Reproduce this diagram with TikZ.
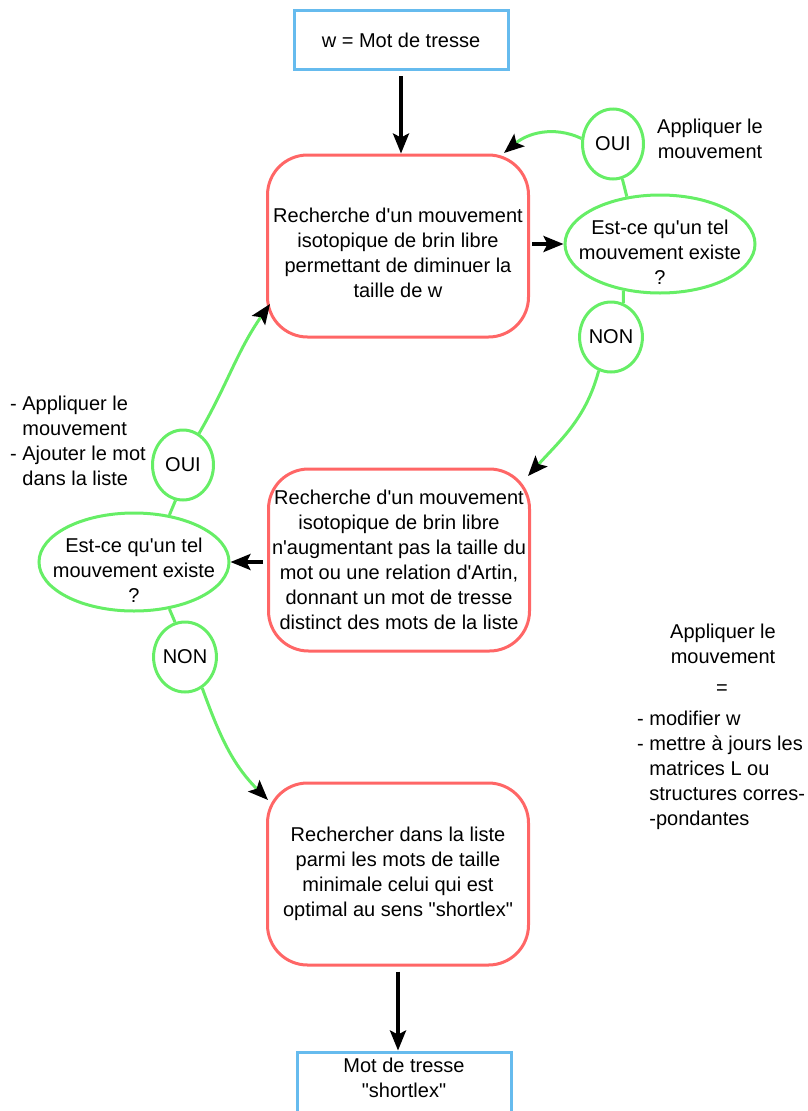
\documentclass[tikz,border=0pt]{standalone}
\usepackage{fontspec}
\setmainfont{Liberation Sans}[Ligatures=TeXOff]
\usepackage{xcolor}
\definecolor{blue1}{HTML}{66BBEE}
\definecolor{red1}{HTML}{FF6666}
\definecolor{green1}{HTML}{66EE66}
\usetikzlibrary{shapes.geometric,arrows.meta,positioning}

\begin{document}
\begin{tikzpicture}[
  x=1pt,y=1pt,
  font=\fontsize{20}{25}\selectfont,
  endpoint/.style={rectangle,draw=blue1,line width=3pt,minimum width=214pt,
                   minimum height=59pt,align=center,inner sep=0pt},
  search/.style={rectangle,draw=red1,line width=3pt,rounded corners=40pt,
                 minimum width=261pt,minimum height=182pt,align=center,inner sep=0pt},
  test/.style={ellipse,draw=green1,line width=3pt,minimum width=190pt,
               minimum height=98pt,align=center,inner xsep=-14pt,inner ysep=-6pt},
  answer/.style={ellipse,draw=green1,line width=3pt,minimum width=61pt,
                 minimum height=70pt,inner sep=0pt},
  arrow/.style={-{Stealth[length=20pt,width=16pt,inset=4pt]},line width=3.5pt},
  branch/.style={-{Stealth[length=20pt,width=16pt,inset=4pt,black]},line width=3pt,draw=green1},
  link/.style={line width=3pt,draw=green1},
  note/.style={align=left,inner sep=0pt},
]
  \useasboundingbox (0,0) rectangle (808,-1111);

  \node[endpoint] (start) at (401,-40) {w = Mot de tresse};
  \node[search] (search1) at (398,-246)
    {\rule{0pt}{28pt}Recherche d'un mouvement\\isotopique de brin libre\\permettant de diminuer la\\taille de w};
  \node[test] (test1) at (660,-244) {\rule{0pt}{30pt}Est-ce qu'un tel\\mouvement existe\\?};
  \node[answer] (yes1) at (613,-144) {OUI};
  \node[answer] (no1) at (611,-337) {NON};
  \node[search] (search2) at (399,-560)
    {Recherche d'un mouvement\\isotopique de brin libre\\n'augmentant pas la taille du\\mot ou une relation d'Artin,\\donnant un mot de tresse\\distinct des mots de la liste};
  \node[test] (test2) at (134,-562) {\rule{0pt}{30pt}Est-ce qu'un tel\\mouvement existe\\?};
  \node[answer] (yes2) at (183,-465) {OUI};
  \node[answer] (no2) at (185,-657) {NON};
  \node[search] (search3) at (398,-874)
    {Rechercher dans la liste\\parmi les mots de taille\\minimale celui qui est\\optimal au sens "shortlex"};
  \node[endpoint,minimum height=62pt] (result) at (404,-1083)
    {Mot de tresse\\"shortlex"\rule[-10pt]{0pt}{1pt}};

  \coordinate (tip1) at (504,-153);
  \coordinate (tip2) at (528,-476);
  \coordinate (tip3) at (270,-304);
  \coordinate (tip4) at (268,-800);

  \draw[arrow,shorten <=5pt] (start.south) -- (start.south |- search1.north);
  \draw[arrow,shorten <=2pt] (search1.east |- test1.west) -- (test1.west);
  \draw[arrow,shorten <=4pt] (search2.west |- test2.east) -- (test2.east);
  \draw[arrow,shorten <=5pt] (search3.south) -- (search3.south |- result.north);

  \draw[link] (yes1.-75) -- (test1.125);
  \draw[link] (test1.232) -- (no1.70);
  \draw[link] (yes2.258) -- (test2.53);
  \draw[link] (test2.-53) -- (no2.106);

  \draw[branch] (yes1.170) to[out=155,in=40] (tip1);
  \draw[branch] (no1.250) to[out=-105,in=48] (tip2);
  \draw[branch] (yes2.63) to[out=60,in=-125] (tip3);
  \draw[branch] (no2.-61) to[out=-70,in=135] (tip4);

  % annotations
  \node[align=center,inner sep=0pt] (noteyes1) at (710,-139) {Appliquer le\\mouvement};
  \node[note,anchor=west] (noteyes2) at (10,-441)
    {- Appliquer le\\\phantom{- }mouvement\\- Ajouter le mot\\\phantom{- }dans la liste};
  \node[align=center,inner sep=0pt] (noteapply) at (723,-644) {Appliquer le\\mouvement};
  \node[inner sep=0pt] (noteeq) at (722,-690) {=};
  \node[note,anchor=west] (notelist) at (637,-770)
    {- modifier w\\- mettre à jours les\\\phantom{- }matrices L ou\\\phantom{- }structures corres-\\\phantom{- }-pondantes};
\end{tikzpicture}
\end{document}
